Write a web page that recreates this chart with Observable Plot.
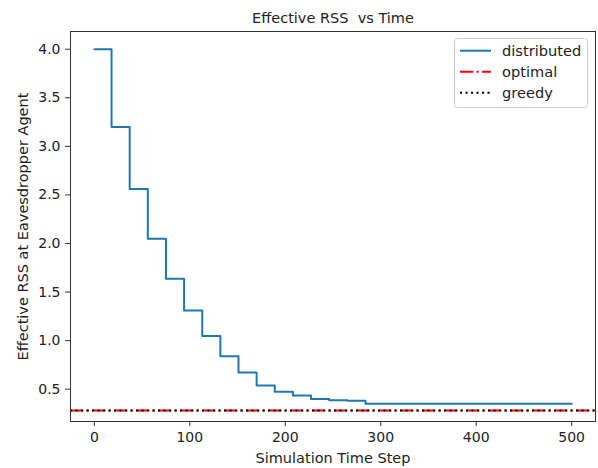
<!DOCTYPE html>
<html><head><meta charset="utf-8">
<script src="https://cdn.jsdelivr.net/npm/d3@7"></script>
<script src="https://cdn.jsdelivr.net/npm/@observablehq/plot@0.6"></script>
<style>
body{margin:0;background:#fff;}
#chart svg{font-family:"DejaVu Sans";}
</style>
</head><body><div id="chart"></div>
<script>
// ---- data ----
const timeSteps   = [0, 18, 37, 56, 75, 94, 113, 132, 151, 170, 189, 208, 227, 246, 265, 284, 500];
const distributed = [4.0, 3.2, 2.56, 2.048, 1.638, 1.311, 1.049, 0.839, 0.671, 0.537, 0.475, 0.435, 0.40, 0.385, 0.38, 0.35, 0.35];
const optimalValue = 0.28;
const greedyValue  = 0.28;
const xTicks = [0, 100, 200, 300, 400, 500];
const yTicks = [0.5, 1.0, 1.5, 2.0, 2.5, 3.0, 3.5, 4.0];
const seriesNames  = ["distributed", "optimal", "greedy"];
const seriesColors = ["#1f77b4", "red", "black"];
const titleText = "Effective RSS  vs Time";
const xLabel = "Simulation Time Step";
const yLabel = "Effective RSS at Eavesdropper Agent";

// matplotlib-like 5% margins
const xExt = d3.extent(timeSteps), yExt = d3.extent(distributed);
const xPad = (xExt[1] - xExt[0]) * 0.05, yPad = (yExt[1] - yExt[0]) * 0.05;

const rows = timeSteps.map((t, i) => ({t, v: distributed[i]}));
const dashDot = "13.3,3.3,2.1,3.3";
const dotted = "2.1,3.4";
const dashes = [null, dashDot, dotted];

const plot = Plot.plot({
  width: 598, height: 468,
  marginLeft: 70, marginRight: 3, marginTop: 31, marginBottom: 47,
  style: {fontFamily: "DejaVu Sans", fontSize: "14px", color: "#222", background: "white", overflow: "visible"},
  x: {domain: [xExt[0] - xPad, xExt[1] + xPad]},
  y: {domain: [yExt[0] - yPad, yExt[1] + yPad]},
  marks: [
    Plot.ruleY([optimalValue], {stroke: seriesColors[1], strokeWidth: 2, strokeDasharray: dashDot}),
    Plot.ruleY([greedyValue], {stroke: seriesColors[2], strokeWidth: 2, strokeDasharray: dotted}),
    Plot.line(rows, {x: "t", y: "v", curve: "step-after", stroke: seriesColors[0], strokeWidth: 2}),
    Plot.frame({stroke: "#333", strokeWidth: 1}),
    Plot.axisX({ticks: xTicks, tickSize: 5, tickPadding: 5.5, label: null, fontSize: 14, stroke: "#333"}),
    Plot.axisY({ticks: yTicks, tickSize: 5, tickPadding: 5, tickFormat: d3.format(".1f"), label: null, fontSize: 14, stroke: "#333"}),
    Plot.text([xLabel], {text: d => d, frameAnchor: "bottom", dy: 37, lineAnchor: "middle", textAnchor: "middle", fontSize: 14.5, fill: "#222"}),
    Plot.text([yLabel], {text: d => d, frameAnchor: "left", dx: -47.6, rotate: -90, lineAnchor: "middle", textAnchor: "middle", fontSize: 14.5, fill: "#222"}),
    Plot.text([titleText], {text: d => d, frameAnchor: "top", dy: -13.3, lineAnchor: "middle", textAnchor: "middle", fontSize: 14.5, fill: "#222"})
  ]
});
document.getElementById("chart").appendChild(plot);

// legend (upper right, matplotlib style)
const svg = d3.select(plot);
const lg = svg.append("g").attr("class", "legend").attr("text-anchor", "start");
lg.append("rect").attr("x", 454.5).attr("y", 38.5).attr("width", 133).attr("height", 69)
  .attr("rx", 3).attr("fill", "white").attr("fill-opacity", 0.8).attr("stroke", "#cccccc");
seriesNames.forEach((name, i) => {
  const y = 50.7 + i * 21;
  lg.append("line").attr("x1", 460).attr("x2", 491).attr("y1", y).attr("y2", y)
    .attr("stroke", seriesColors[i]).attr("stroke-width", 2)
    .attr("stroke-dasharray", dashes[i]);
  lg.append("text").attr("x", 502).attr("y", y).attr("dy", "0.38em")
    .attr("text-anchor", "start")
    .attr("font-size", 14.6).attr("fill", "#222").text(name);
});
</script>
</body></html>
